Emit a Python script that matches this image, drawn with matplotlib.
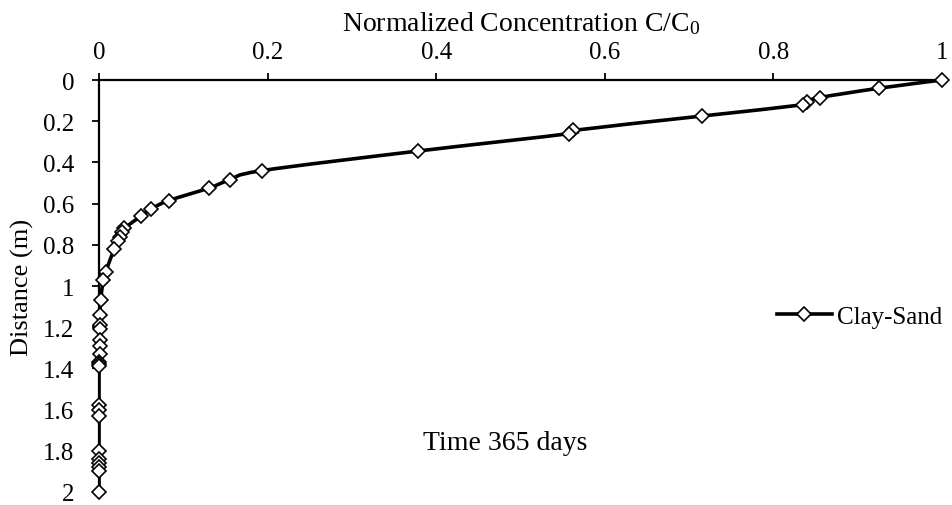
import numpy as np
import matplotlib
matplotlib.use("Agg")
import matplotlib.pyplot as plt
from matplotlib.path import Path
from matplotlib.patches import PathPatch
from matplotlib.lines import Line2D

plt.rcParams["font.family"] = ["Liberation Serif", "DejaVu Serif"]
plt.rcParams["mathtext.fontset"] = "custom"
plt.rcParams["mathtext.rm"] = "Liberation Serif"
plt.rcParams["mathtext.it"] = "Liberation Serif:italic"

# Clay-Sand profile after 365 days: normalized concentration vs distance
concentration = [1.0, 0.925, 0.855, 0.840, 0.835, 0.715, 0.562, 0.558, 0.378,
                 0.193, 0.155, 0.130, 0.083, 0.062, 0.050, 0.030, 0.027, 0.025,
                 0.022, 0.018, 0.008, 0.005, 0.002, 0.001, 0.001, 0.001, 0.001,
                 0.001, 0.001, 0.0, 0.0, 0.0, 0.0, 0.0, 0.0, 0.0, 0.0, 0.0,
                 0.0, 0.0, 0.0]
distance = [0.0, 0.04, 0.085, 0.105, 0.12, 0.175, 0.245, 0.26, 0.345,
            0.44, 0.485, 0.525, 0.585, 0.625, 0.66, 0.72, 0.74, 0.76,
            0.78, 0.82, 0.93, 0.97, 1.07, 1.14, 1.19, 1.21, 1.26,
            1.29, 1.33, 1.37, 1.38, 1.39, 1.58, 1.60, 1.63, 1.80, 1.84, 1.86,
            1.88, 1.90, 2.0]
x_ticks = [0, 0.2, 0.4, 0.6, 0.8, 1]
y_ticks = [0, 0.2, 0.4, 0.6, 0.8, 1, 1.2, 1.4, 1.6, 1.8, 2]
x_tick_labels = ["0", "0.2", "0.4", "0.6", "0.8", "1"]
y_tick_labels = ["0", "0.2", "0.4", "0.6", "0.8", "1", "1.2", "1.4", "1.6", "1.8", "2"]

fig = plt.figure(figsize=(9.53, 5.06), dpi=100)
ax = fig.add_axes([0.1039, 0.0257, 0.8846, 0.8142])


def smooth_path(xs, ys, tension=1 / 6):
    """Cubic Bezier path through the points (Catmull-Rom style smoothing)."""
    pts = np.column_stack([xs, ys]).astype(float)
    verts = [pts[0]]
    codes = [Path.MOVETO]
    n = len(pts)
    for i in range(n - 1):
        p0 = pts[i - 1] if i > 0 else pts[i]
        p1 = pts[i]
        p2 = pts[i + 1]
        p3 = pts[i + 2] if i + 2 < n else pts[i + 1]
        c1 = p1 + (p2 - p0) * tension
        c2 = p2 - (p3 - p1) * tension
        verts += [c1, c2, p2]
        codes += [Path.CURVE4] * 3
    return Path(verts, codes)


ax.add_patch(PathPatch(smooth_path(concentration, distance), facecolor="none",
                       edgecolor="black", lw=2.6, capstyle="round",
                       joinstyle="round", zorder=2))
ax.plot(concentration, distance, linestyle="none", marker="D", markersize=7.5,
        markerfacecolor="white", markeredgecolor="black", markeredgewidth=1.2,
        zorder=3, clip_on=False)

ax.set_xlim(0, 1)
ax.set_ylim(2, 0)
ax.xaxis.tick_top()
ax.xaxis.set_label_position("top")
ax.set_xticks(x_ticks)
ax.set_xticklabels(x_tick_labels)
ax.set_yticks(y_ticks)
ax.set_yticklabels(y_tick_labels)
ax.tick_params(axis="both", direction="out", length=5, width=1.3,
               labelsize=18, colors="black")
ax.tick_params(axis="x", pad=7)
ax.tick_params(axis="y", pad=13)
for side in ("right", "bottom"):
    ax.spines[side].set_visible(False)
for side in ("top", "left"):
    ax.spines[side].set_linewidth(1.6)

ax.set_xlabel("Normalized Concentration C/C$_0$", fontsize=20, labelpad=8)
ax.set_ylabel("Distance (m)", fontsize=19, labelpad=6)

handle = Line2D([], [], color="black", lw=2.6, marker="D", markersize=7.5,
                markerfacecolor="white", markeredgecolor="black",
                markeredgewidth=1.2)
ax.legend([handle], ["Clay-Sand"], loc="center right",
          bbox_to_anchor=(1.012, 0.425), frameon=False, fontsize=18,
          handlelength=2.2, handletextpad=0.2, borderaxespad=0)

ax.text(0.482, 0.121, "Time 365 days", transform=ax.transAxes,
        ha="center", va="center", fontsize=20)

fig.savefig("out.png", dpi=100)
